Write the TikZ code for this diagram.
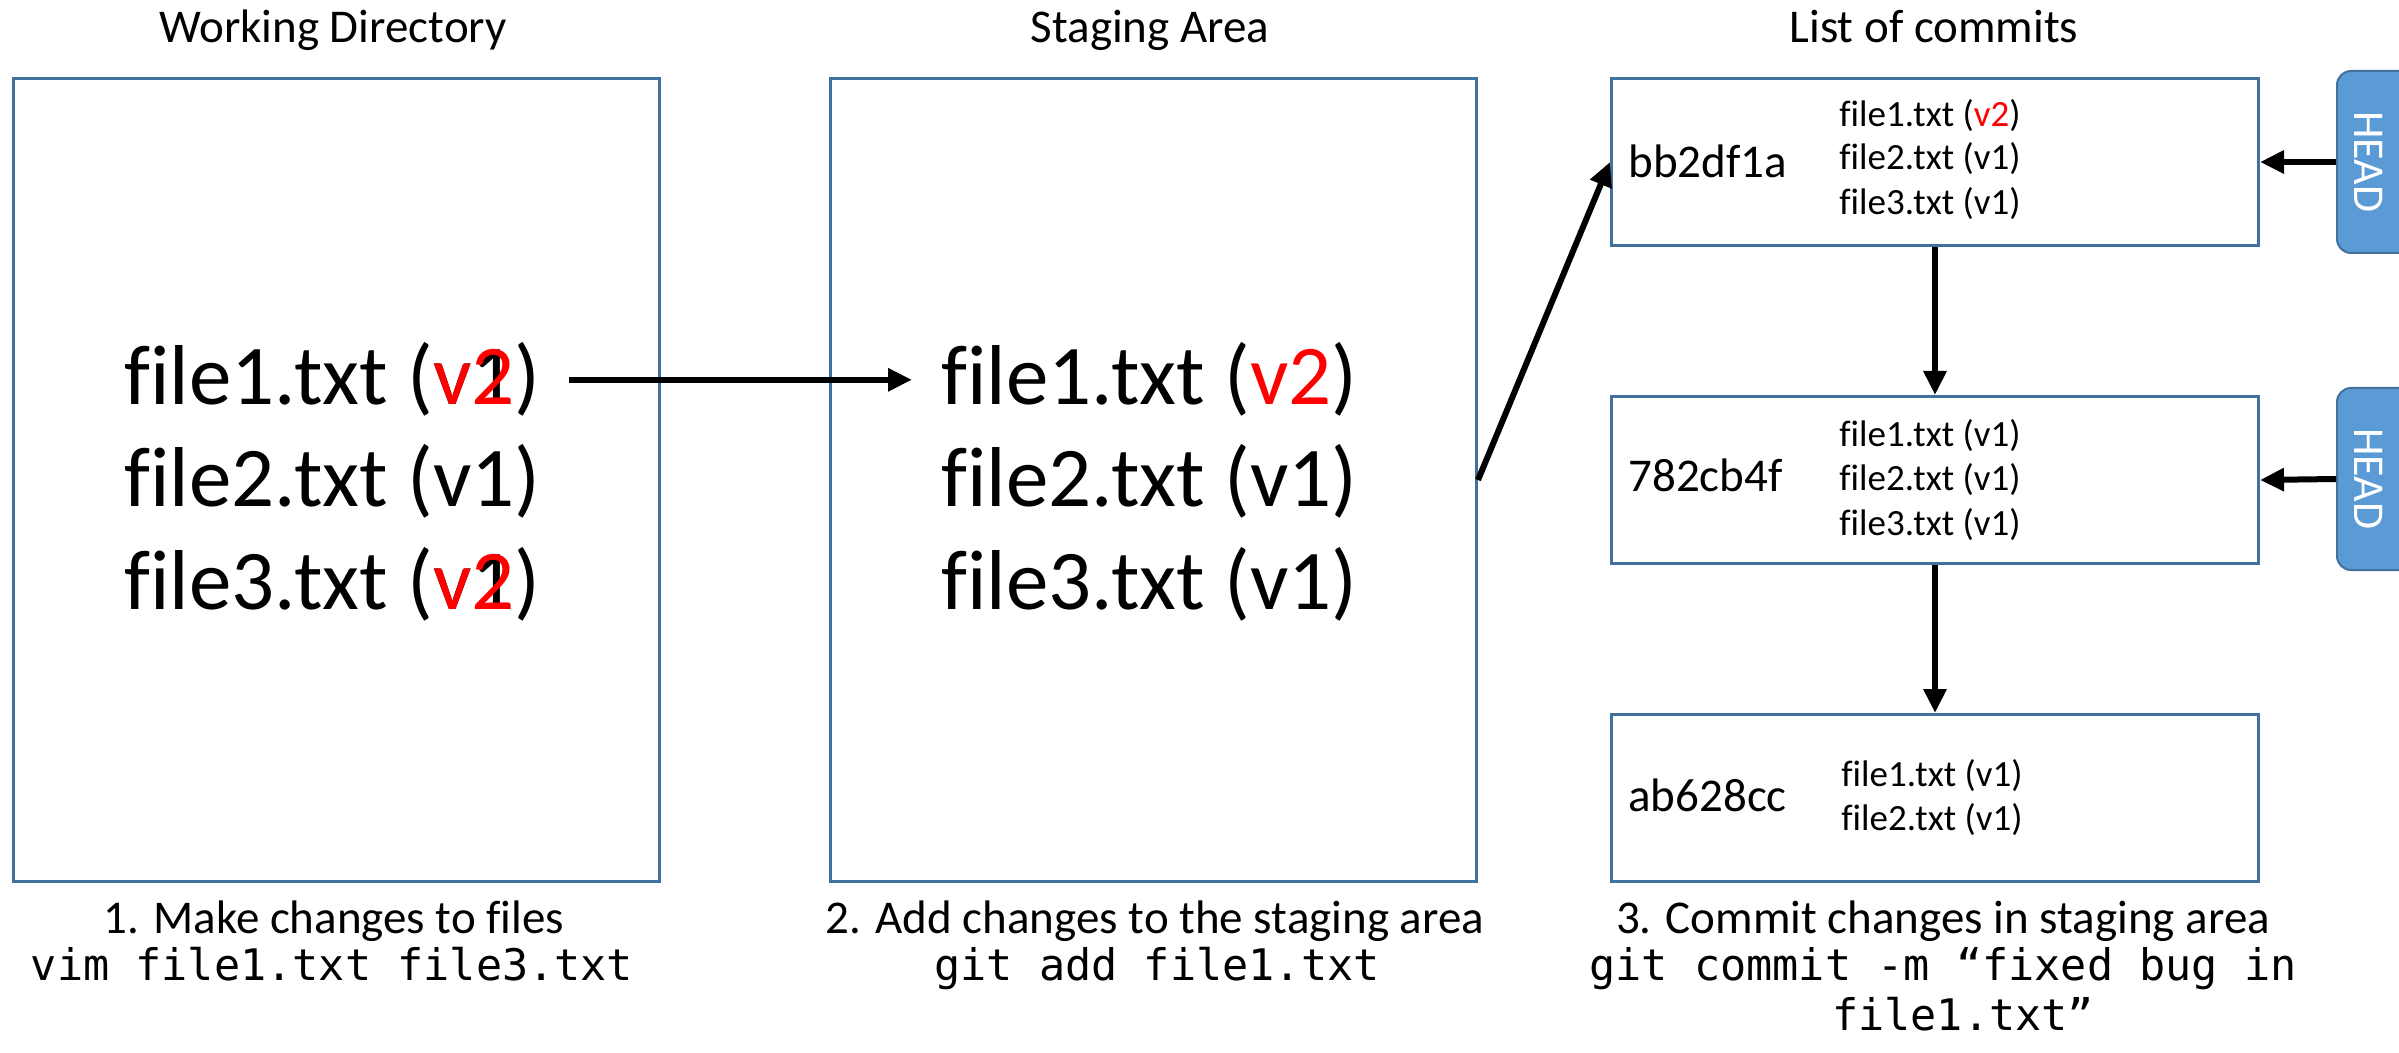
\documentclass[tikz,border=0pt]{standalone}
\usepackage{fontspec}
\setmainfont[Ligatures={NoCommon}]{Carlito}
\setmonofont{DejaVu Sans Mono}
\usetikzlibrary{arrows.meta}
\definecolor{boxline}{RGB}{65,113,156}
\definecolor{headfill}{RGB}{91,155,213}
\newcommand{\vtwo}{\rlap{v1}\textcolor{red}{v2}}
\begin{document}
\begin{tikzpicture}[x=0.5pt,y=-0.5pt,
  area/.style={draw=boxline,line width=1.5pt,inner sep=0pt,anchor=north west,
    minimum width=323pt,minimum height=401.5pt},
  commit/.style={draw=boxline,line width=1.5pt,inner sep=0pt,anchor=north west,
    minimum width=323.5pt,minimum height=83.5pt},
  headbox/.style={draw=boxline,fill=headfill,line width=1pt,rounded corners=7pt,
    anchor=north west,inner sep=0pt,minimum width=40pt,minimum height=91pt,
    text=white,font=\fontsize{22}{26}\selectfont},
  title/.style={font=\fontsize{23.5}{28}\selectfont,inner sep=0pt,anchor=base},
  cmd/.style={font=\fontsize{21.75}{26}\ttfamily,inner sep=0pt,anchor=base},
  bigtxt/.style={font=\fontsize{42.5}{51}\selectfont,inner sep=0pt,anchor=base west},
  hash/.style={font=\fontsize{23.5}{28}\selectfont,inner sep=0pt,anchor=base west},
  smalltxt/.style={font=\fontsize{18.5}{22}\selectfont,inner sep=0pt,anchor=base west},
  conn/.style={line width=3pt,-{Triangle[length=12pt,width=11pt]}}]

\useasboundingbox (0,0) rectangle (2399,1053);

% headings
\node[title] (tw) at (333,43) {Working Directory};
\node[title] (ts) at (1150,43) {Staging Area};
\node[title] (tc) at (1934,43) {List of commits};

% the three areas
\node[area] (wd) at (12,77) {};
\node[area] (sg) at (829,77) {};
\node[commit] (c1) at (1610,77) {};
\node[commit] (c2) at (1610,395) {};
\node[commit] (c3) at (1610,713) {};

% HEAD markers
\node[headbox] (h1) at (2336,70) {\rotatebox{-90}{HEAD}\hspace*{8pt}};
\node[headbox] (h2) at (2336,387) {\rotatebox{-90}{HEAD}\hspace*{8pt}};

% working directory files
\node[bigtxt] (w1) at (124,405) {file1.txt (\vtwo)};
\node[bigtxt] (w2) at (124,507) {file2.txt (v1)};
\node[bigtxt] (w3) at (124,609) {file3.txt (\vtwo)};

% staging area files
\node[bigtxt] (s1) at (941,405) {file1.txt (\textcolor{red}{v2})};
\node[bigtxt] (s2) at (941,507) {file2.txt (v1)};
\node[bigtxt] (s3) at (941,609) {file3.txt (v1)};

% commit bb2df1a
\node[hash] (k1) at (1628,178) {bb2df1a};
\node[smalltxt] (k1a) at (1839,127) {file1.txt (\textcolor{red}{v2})};
\node[smalltxt] (k1b) at (1839,170) {file2.txt (v1)};
\node[smalltxt] (k1c) at (1839,215) {file3.txt (v1)};

% commit 782cb4f
\node[hash] (k2) at (1628,492) {782cb4f};
\node[smalltxt] (k2a) at (1839,447) {file1.txt (v1)};
\node[smalltxt] (k2b) at (1839,490) {file2.txt (v1)};
\node[smalltxt] (k2c) at (1839,535) {file3.txt (v1)};

% commit ab628cc
\node[hash] (k3) at (1628,811) {ab628cc};
\node[smalltxt] (k3a) at (1841,786) {file1.txt (v1)};
\node[smalltxt] (k3b) at (1841,830) {file2.txt (v1)};

% captions
\node[title] (p1) at (334,933) {1. Make changes to files};
\node[cmd] (q1) at (332,980) {vim file1.txt file3.txt};
\node[title] (p2) at (1155,933) {2. Add changes to the staging area};
\node[cmd] (q2) at (1157,980) {git add file1.txt};
\node[title] (p3) at (1943,933) {3. Commit changes in staging area};
\node[cmd] (q3) at (1943,980) {git commit -m “fixed bug in};
\node[cmd] (q4) at (1963,1030) {file1.txt”};

% connectors
\draw[conn,shorten <=14pt,shorten >=14.5pt] (w1.east) -- (s1.west);
\draw[conn] (sg.east) -- (c1.west);
\draw[conn] (c1.south) -- (c2.north);
\draw[conn] (c2.south) -- (c3.north);
\draw[conn] (h1.west) -- (c1.east);
\draw[conn] (h2.west) -- (c2.east);
\end{tikzpicture}
\end{document}
